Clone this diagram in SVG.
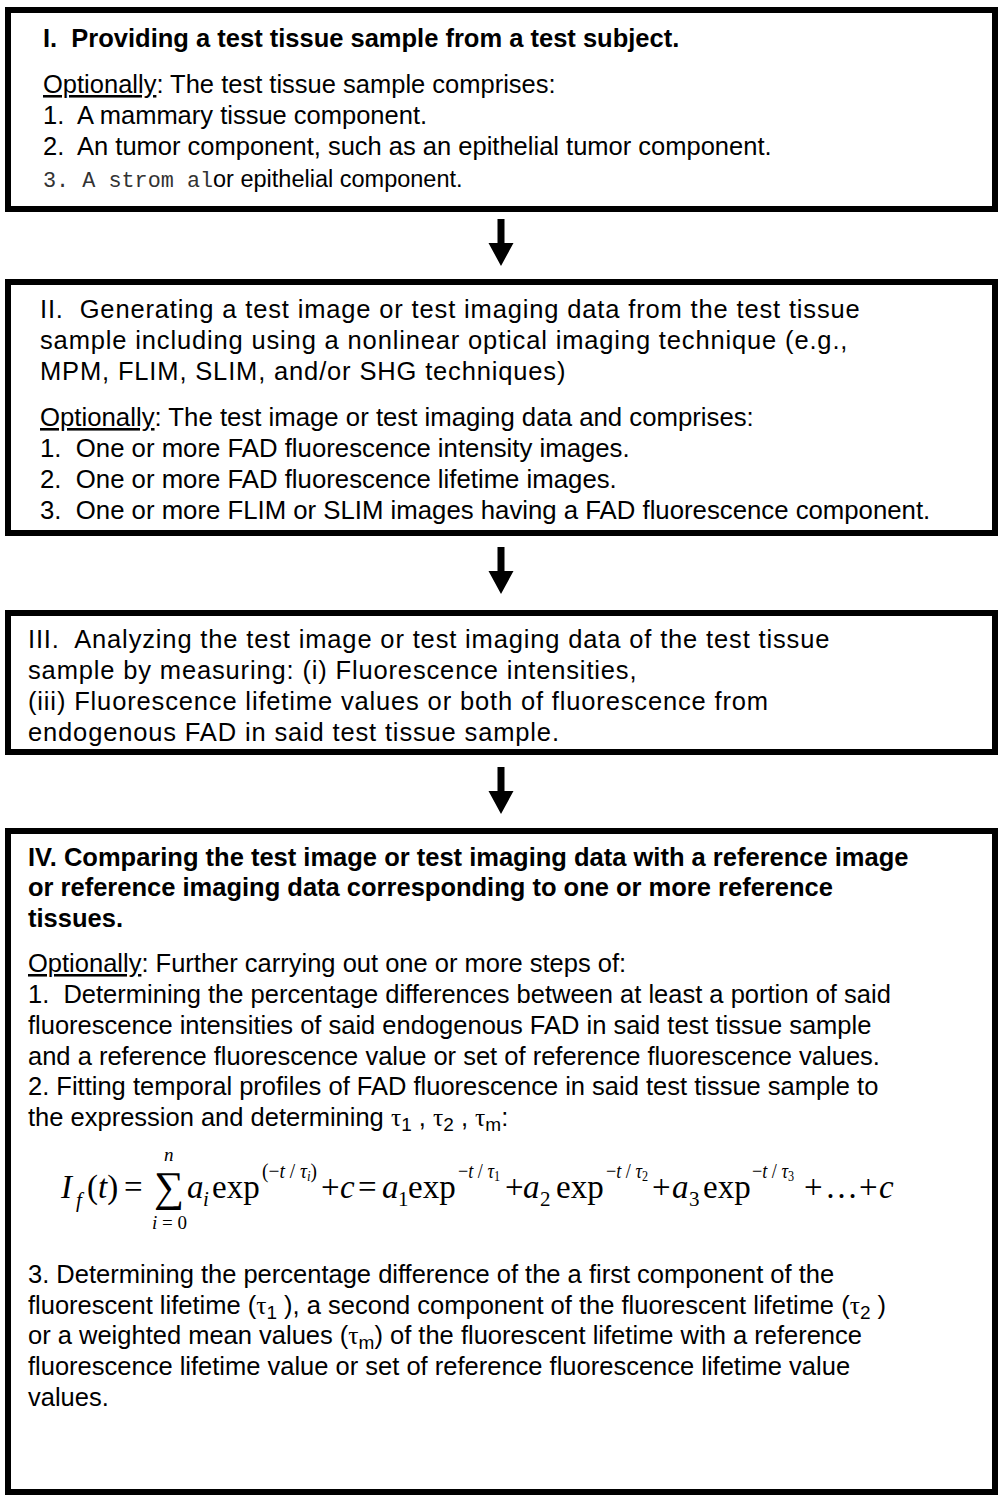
<svg xmlns="http://www.w3.org/2000/svg" width="1001" height="1496" viewBox="0 0 1001 1496">
<defs>
<style>
.box{fill:#fff;stroke:#000;stroke-width:6}
.t{font-family:"Liberation Sans",Arial,sans-serif;font-size:25.5px;fill:#000;white-space:pre}
.w{font-size:25.75px}
.b{font-weight:bold}
.sp{letter-spacing:0.85px}
.u{text-decoration:underline}
.m{font-family:"Liberation Mono","Courier New",monospace;font-size:21.8px;fill:#333}
.r{font-size:23.5px}
.g{font-family:"Liberation Serif","Times New Roman",serif}
.f{font-family:"Liberation Serif","Times New Roman",serif;font-size:33px;fill:#000;white-space:pre}
.sig{font-size:42px}
.it{font-style:italic}
.s{font-size:21px}
.ss{font-size:19px}
.arr{fill:#000}
</style>
<path id="arrow" d="M-3.5,0 H3.5 V24 H12.5 L0,47 L-12.5,24 H-3.5 Z"/>
</defs>
<rect x="0" y="0" width="1001" height="1496" fill="#fff"/>

<g id="connectors">
<use href="#arrow" class="arr" transform="translate(501,219)"/>
<use href="#arrow" class="arr" transform="translate(501,547)"/>
<use href="#arrow" class="arr" transform="translate(501,767)"/>
</g>

<g id="node1">
<rect class="box" x="8" y="10" width="987" height="199"/>
<text class="t b" x="43" y="47">I.  Providing a test tissue sample from a test subject.</text>
<text class="t" x="43" y="93"><tspan class="u">Optionally</tspan>: The test tissue sample comprises:</text>
<text class="t" x="43" y="124">1.  A mammary tissue component.</text>
<text class="t" x="43" y="155">2.  An tumor component, such as an epithelial tumor component.</text>
<text class="t" x="43" y="187"><tspan class="m">3. A strom al</tspan><tspan class="r">or epithelial component.</tspan></text>
</g>

<g id="node2">
<rect class="box" x="8" y="282" width="987" height="251"/>
<text class="t sp" x="40" y="318">II.  Generating a test image or test imaging data from the test tissue</text>
<text class="t sp" x="40" y="349">sample including using a nonlinear optical imaging technique (e.g.,</text>
<text class="t sp" x="40" y="380">MPM, FLIM, SLIM, and/or SHG techniques)</text>
<text class="t w" x="40" y="426"><tspan class="u">Optionally</tspan>: The test image or test imaging data and comprises:</text>
<text class="t w" x="40" y="457">1.  One or more FAD fluorescence intensity images.</text>
<text class="t w" x="40" y="488">2.  One or more FAD fluorescence lifetime images.</text>
<text class="t w" x="40" y="519">3.  One or more FLIM or SLIM images having a FAD fluorescence component.</text>
</g>

<g id="node3">
<rect class="box" x="8" y="613" width="987" height="139"/>
<text class="t sp" x="28" y="648">III.  Analyzing the test image or test imaging data of the test tissue</text>
<text class="t sp" x="28" y="679">sample by measuring: (i) Fluorescence intensities,</text>
<text class="t sp" x="28" y="710">(iii) Fluorescence lifetime values or both of fluorescence from</text>
<text class="t sp" x="28" y="741">endogenous FAD in said test tissue sample.</text>
</g>

<g id="node4">
<rect class="box" x="8" y="831" width="987" height="661"/>
<text class="t b" x="28" y="866">IV. Comparing the test image or test imaging data with a reference image</text>
<text class="t b" x="28" y="896">or reference imaging data corresponding to one or more reference</text>
<text class="t b" x="28" y="927">tissues.</text>
<text class="t" x="28" y="972"><tspan class="u">Optionally</tspan>: Further carrying out one or more steps of:</text>
<text class="t" x="28" y="1003">1.  Determining the percentage differences between at least a portion of said</text>
<text class="t" x="28" y="1034">fluorescence intensities of said endogenous FAD in said test tissue sample</text>
<text class="t" x="28" y="1065">and a reference fluorescence value or set of reference fluorescence values.</text>
<text class="t" x="28" y="1095">2. Fitting temporal profiles of FAD fluorescence in said test tissue sample to</text>
<text class="t" x="28" y="1126">the expression and determining <tspan class="g">τ</tspan><tspan class="ss" dy="5">1</tspan><tspan dy="-5"> , </tspan><tspan class="g">τ</tspan><tspan class="ss" dy="5">2</tspan><tspan dy="-5"> , </tspan><tspan class="g">τ</tspan><tspan class="ss" dy="5">m</tspan><tspan dy="-5">:</tspan></text>

<g id="formula">
<text class="f it" x="61" y="1198">I</text>
<text class="f it s" x="76" y="1207">f</text>
<text class="f" x="87" y="1198">(<tspan class="it">t</tspan>)</text>
<text class="f" x="124" y="1198">=</text>
<text class="f sig" x="154" y="1201">∑</text>
<text class="f it ss" x="164" y="1161">n</text>
<text class="f ss" x="152" y="1229"><tspan class="it">i</tspan> = 0</text>
<text class="f it" x="187" y="1198">a</text>
<text class="f it s" x="203" y="1206">i</text>
<text class="f" x="212" y="1198">exp</text>
<text class="f s" x="262" y="1178" textLength="55" lengthAdjust="spacingAndGlyphs">(−<tspan class="it">t</tspan> / <tspan class="it">τ</tspan><tspan class="it" font-size="14" dy="3">i</tspan><tspan dy="-3">)</tspan></text>
<text class="f" x="321" y="1198">+</text>
<text class="f it" x="340" y="1198">c</text>
<text class="f" x="358" y="1198">=</text>
<text class="f it" x="382" y="1198">a</text>
<text class="f s" x="398" y="1206">1</text>
<text class="f" x="408" y="1198">exp</text>
<text class="f s" x="458" y="1178" textLength="42" lengthAdjust="spacingAndGlyphs">−<tspan class="it">t</tspan> / <tspan class="it">τ</tspan><tspan font-size="14" dy="3">1</tspan></text>
<text class="f" x="505" y="1198">+</text>
<text class="f it" x="523" y="1198">a</text>
<text class="f s" x="540" y="1206">2</text>
<text class="f" x="556" y="1198">exp</text>
<text class="f s" x="606" y="1178" textLength="42" lengthAdjust="spacingAndGlyphs">−<tspan class="it">t</tspan> / <tspan class="it">τ</tspan><tspan font-size="14" dy="3">2</tspan></text>
<text class="f" x="652" y="1198">+</text>
<text class="f it" x="672" y="1198">a</text>
<text class="f s" x="689" y="1206">3</text>
<text class="f" x="703" y="1198">exp</text>
<text class="f s" x="752" y="1178" textLength="42" lengthAdjust="spacingAndGlyphs">−<tspan class="it">t</tspan> / <tspan class="it">τ</tspan><tspan font-size="14" dy="3">3</tspan></text>
<text class="f" x="804" y="1198">+</text>
<text class="f" x="825" y="1198">…</text>
<text class="f" x="859" y="1198">+</text>
<text class="f it" x="879" y="1198">c</text>
</g>

<text class="t" x="28" y="1283">3. Determining the percentage difference of the a first component of the</text>
<text class="t" x="28" y="1314">fluorescent lifetime (<tspan class="g">τ</tspan><tspan class="ss" dy="5">1</tspan><tspan dy="-5"> ), a second component of the fluorescent lifetime (</tspan><tspan class="g">τ</tspan><tspan class="ss" dy="5">2</tspan><tspan dy="-5"> )</tspan></text>
<text class="t" x="28" y="1344">or a weighted mean values (<tspan class="g">τ</tspan><tspan class="ss" dy="5">m</tspan><tspan dy="-5">) of the fluorescent lifetime with a reference</tspan></text>
<text class="t" x="28" y="1375">fluorescence lifetime value or set of reference fluorescence lifetime value</text>
<text class="t" x="28" y="1406">values.</text>
</g>
</svg>
